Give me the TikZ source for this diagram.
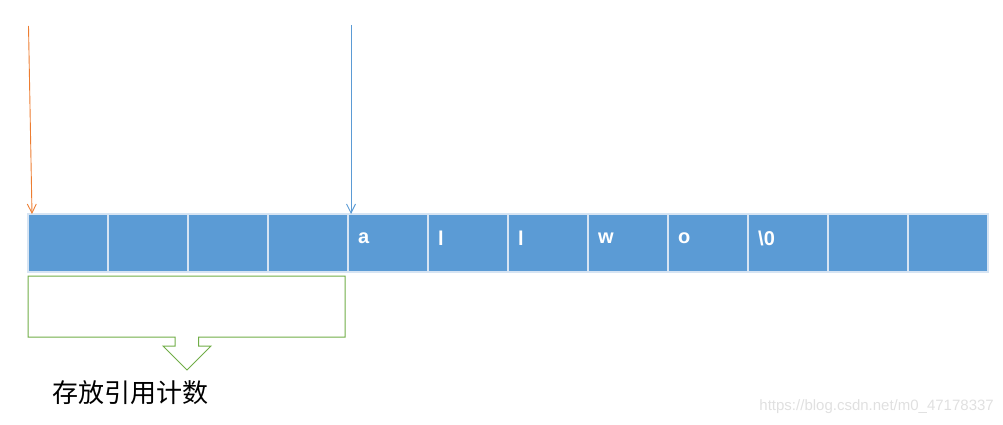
\documentclass[tikz,border=0pt]{standalone}
\usepackage{fontspec}
\setmainfont{Liberation Sans}
\newfontfamily\cjk{Noto Sans CJK SC}
\usetikzlibrary{arrows.meta,calc}
\definecolor{cellblue}{HTML}{5B9BD5}
\definecolor{cellline}{HTML}{D6E4F3}
\definecolor{arrorange}{HTML}{ED7D31}
\definecolor{callgreen}{HTML}{70AD47}
\tikzset{
  cell/.style={rectangle, fill=cellblue, draw=cellline, line width=1.2pt,
    minimum width=80pt, minimum height=58pt, inner sep=0pt, outer sep=0pt,
    anchor=north west},
  celltext/.style={text=white, font=\fontsize{20}{20}\selectfont\bfseries, anchor=west, inner sep=0pt},
  ptr/.style={line width=0.9pt, -{Straight Barb[length=9pt,width=9pt,line width=0.9pt]}},
}
\begin{document}
\begin{tikzpicture}[x=1pt,y=-1pt]
\useasboundingbox (0,0) rectangle (1003,425);
\foreach \i in {0,...,11}{
  \node[cell] (c\i) at (28+80*\i,214) {};
}
\foreach \i/\t in {4/a,5/l,6/l,7/w,8/o,9/{\textbackslash 0}}{
  \node[celltext] at ($(c\i.west)+(10pt,5pt)$) {\t};
}
\coordinate (os) at (28.5,26);
\coordinate (bs) at (351,25);
\draw[ptr, arrorange] (os) -- ($(c0.north west)+(4,0)$);
\draw[ptr, cellblue] (bs) -- ($(c4.north west)+(3,0)$);
% callout
\draw[callgreen, line width=1pt, line join=miter]
  (28,276) -- (345,276) -- (345,337) -- (198.5,337) -- (198.5,346) -- (211,346)
  -- (187,370) -- (163,346) -- (175,346) -- (175,337) -- (28,337) -- cycle;
\coordinate (tip) at (187,370);
\node[font=\cjk\fontsize{26}{26}\selectfont, anchor=center] (lbl) at (130,393) {存放引用计数};
\node[text=black!12, font=\fontsize{15}{15}\selectfont, anchor=east, inner sep=0pt] (wm) at (994,407) {https://blog.csdn.net/m0\_47178337};
\end{tikzpicture}
\end{document}
